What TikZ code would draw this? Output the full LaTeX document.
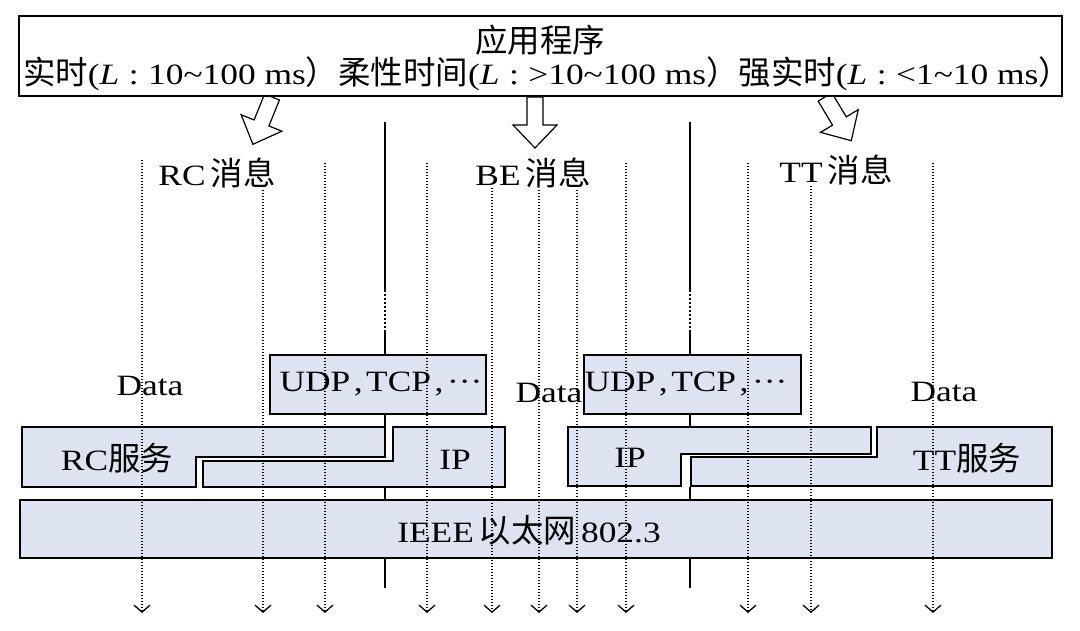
\documentclass[tikz,border=0pt]{standalone}
\usepackage{fontspec}
\setmainfont[FakeStretch=1.2]{Liberation Serif}
\newfontfamily\cjk[Scale=1.1]{Noto Sans CJK SC}
\usetikzlibrary{arrows.meta}
\definecolor{boxfill}{RGB}{221,227,240}
\tikzset{
  lbl/.style={inner sep=0pt, font=\fontsize{29.5}{31}\selectfont},
  layer/.style={draw, line width=1.3pt, fill=boxfill},
  frame/.style={draw, line width=1.4pt},
  dotarrow/.style={line width=1.1pt, dash pattern=on 1pt off 2pt,
    -{Straight Barb[length=7pt,width=16pt,line width=1.3pt]}},
  vline/.style={line width=1.3pt},
  thickdots/.style={line width=2.6pt, dash pattern=on 2pt off 2pt},
  blockarrow/.style={draw, line width=1.2pt, fill=white, line join=miter},
}
\newcommand{\Lsep}{\textit{L}\hspace{0.32em}:\hspace{0.32em}}
\newcommand{\csep}{\hspace{0.12em},\hspace{0.12em}}
\begin{document}
\begin{tikzpicture}[x=1pt,y=-1pt]
\useasboundingbox (0,0) rectangle (1080,631);

% block arrows
\begin{scope}[shift={(272,97)}, rotate=-22]
  \path[blockarrow] (-8,0) -- (-8,28) -- (-22,28) -- (0,51) -- (22,28) -- (8,28) -- (8,0) -- cycle;
\end{scope}
\begin{scope}[shift={(535,97)}]
  \path[blockarrow] (-8,0) -- (-8,28) -- (-22,28) -- (0,51) -- (22,28) -- (8,28) -- (8,0) -- cycle;
\end{scope}
\begin{scope}[shift={(825,97)}, rotate=31]
  \path[blockarrow] (-8,0) -- (-8,28) -- (-22,28) -- (0,51) -- (22,28) -- (8,28) -- (8,0) -- cycle;
\end{scope}

% application box
\node[frame, fill=white, minimum width=1043pt, minimum height=80pt, inner sep=0pt] (app) at (540.5,56) {};
\node[lbl] (apptitle) at (540,40) {\cjk 应用程序};
\node[lbl] (appline) at (547,74) {{\cjk 实时}(\Lsep 10\textasciitilde 100 ms{\cjk ）}{\cjk 柔性时间}(\Lsep >10\textasciitilde 100 ms{\cjk ）}{\cjk 强实时}(\Lsep <1\textasciitilde 10 ms{\cjk ）}};

% message labels
\node[lbl] (rcmsg) at (217,173) {RC\,{\cjk 消息}};
\node[lbl] (bemsg) at (533,173) {BE\,{\cjk 消息}};
\node[lbl] (ttmsg) at (836,170) {TT\,{\cjk 消息}};

% vertical separators
\foreach \x in {385,690} {
  \coordinate (s1\x) at (\x,122);
  \coordinate (s2\x) at (\x,290);
  \coordinate (s3\x) at (\x,332);
  \coordinate (s4\x) at (\x,355);
  \coordinate (s5\x) at (\x,414);
  \coordinate (s6\x) at (\x,427);
  \coordinate (s7\x) at (\x,487);
  \coordinate (s8\x) at (\x,500);
  \coordinate (s9\x) at (\x,558);
  \coordinate (s10\x) at (\x,588);
  \draw[vline] (s1\x) -- (s2\x);
  \draw[thickdots] (s2\x) -- (s3\x);
  \draw[vline] (s3\x) -- (s4\x);
  \draw[vline] (s5\x) -- (s6\x);
  \draw[vline] (s7\x) -- (s8\x);
  \draw[vline] (s9\x) -- (s10\x);
}

% transport boxes
\node[layer, minimum width=216pt, minimum height=59pt, inner sep=0pt] (udp1) at (378,384.5) {};
\node[layer, minimum width=217pt, minimum height=59pt, inner sep=0pt] (udp2) at (692.5,384.5) {};

% RC service / IP (left)
\path[layer] (22,427) -- (385,427) -- (385,457) -- (196,457) -- (196,487) -- (22,487) -- cycle;
\path[layer] (393,427) -- (505,427) -- (505,487) -- (203,487) -- (203,461) -- (393,461) -- cycle;
% IP / TT service (right)
\path[layer] (568,427) -- (871,427) -- (871,454) -- (681,454) -- (681,486) -- (568,486) -- cycle;
\path[layer] (877,427) -- (1052,427) -- (1052,486) -- (691,486) -- (691,457) -- (877,457) -- cycle;

% ethernet
\node[layer, minimum width=1032pt, minimum height=58pt, inner sep=0pt] (eth) at (536,529) {};

% dotted message flows
\foreach \x/\y in {142/160, 263/190, 325/163, 427/163, 492/188, 539/190, 577/190, 626/163, 748/163, 811/186, 933/163} {
  \coordinate (t\x) at (\x,\y);
  \coordinate (b\x) at (\x,613);
  \draw[dotarrow] (t\x) -- (b\x);
}

% texts
\node[lbl] (data1) at (150,386) {Data};
\node[lbl] (data2) at (549,393) {Data};
\node[lbl] (data3) at (944,392) {Data};
\node[lbl] (udpt1) at (381,384) {UDP\csep TCP\csep ···};
\node[lbl] (udpt2) at (686,384) {UDP\csep TCP\csep ···};
\node[lbl] (rcsvc) at (117,458) {RC{\cjk 服务}};
\node[lbl] (ip1) at (455,460) {IP};
\node[lbl] (ip2) at (630,458) {IP};
\node[lbl] (ttsvc) at (967,458) {TT{\cjk 服务}};
\node[lbl] (ethtxt) at (529,530) {IEEE\,{\cjk 以太网}\,802.3};
\end{tikzpicture}
\end{document}
